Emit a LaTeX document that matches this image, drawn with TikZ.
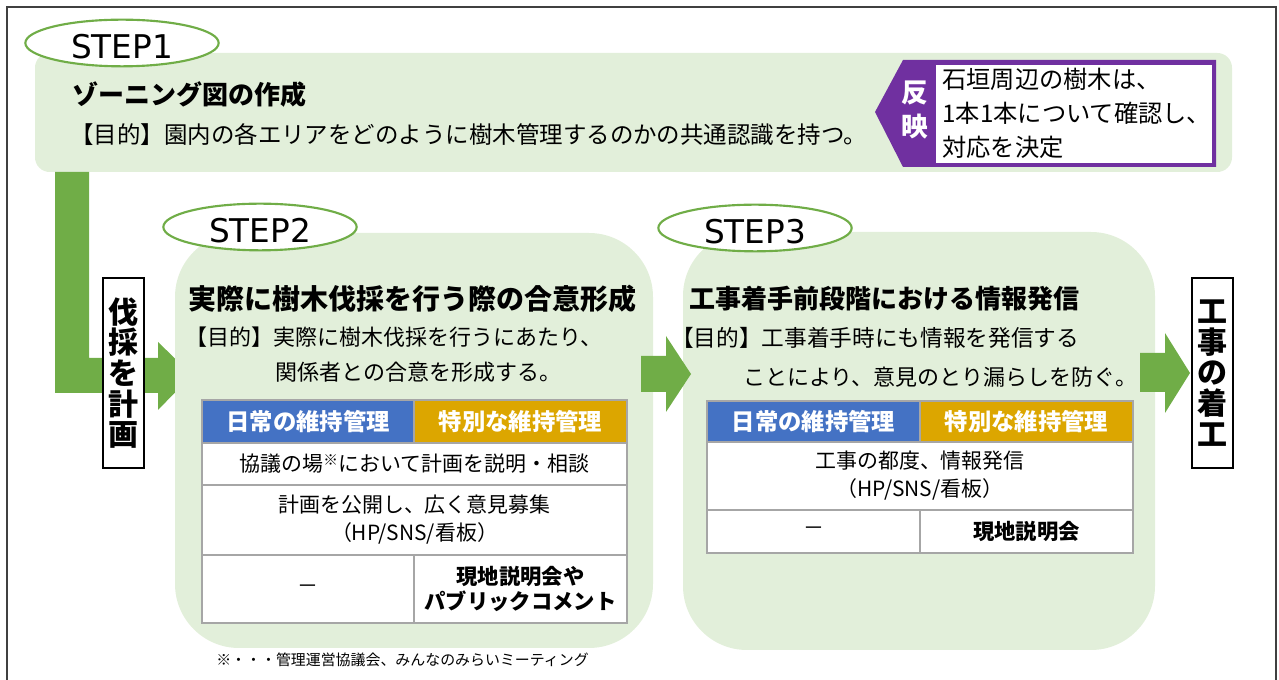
\documentclass[tikz,border=0pt]{standalone}
\usepackage{fontspec}
\setmainfont{Noto Sans CJK JP}
\newfontfamily\stepfont{DejaVu Sans}
\usetikzlibrary{shapes.geometric}
\definecolor{lgreen}{HTML}{E2EFDA}
\definecolor{sgreen}{HTML}{70AD47}
\definecolor{purp}{HTML}{7030A0}
\definecolor{hblue}{HTML}{4472C4}
\definecolor{hgold}{HTML}{DCA600}
\definecolor{tgray}{HTML}{A6A6A6}
\definecolor{framec}{HTML}{404040}
\begin{document}
\begin{tikzpicture}[x=0.75pt,y=-0.75pt,
  oval/.style={ellipse, draw=sgreen, line width=1.6pt, fill=white, minimum width=145pt, minimum height=35pt, inner sep=0pt},
  steptext/.style={font=\stepfont\fontsize{24.5}{24.5}\selectfont, inner sep=0pt},
  titletext/.style={font=\bfseries\fontsize{19.5}{22}\selectfont, anchor=west, inner sep=0pt},
  purptext/.style={font=\fontsize{16.5}{20}\selectfont, inner sep=0pt},
  vbox/.style={draw=black, line width=1.1pt, fill=white, minimum width=30.75pt, minimum height=142.5pt, inner sep=0pt, align=center, font=\bfseries\fontsize{22.5}{23}\selectfont},
  cell/.style={draw=tgray, line width=1.4pt, fill=white, inner sep=0pt, align=center, font=\fontsize{15.7}{21}\selectfont},
  hcell/.style={cell, text=white, font=\bfseries\fontsize{17.5}{20}\selectfont},
  greenarrow/.style={fill=sgreen}
]
\useasboundingbox (0,0) rectangle (1279,680);
% frame
\draw[framec, line width=1.5pt] (7,680) -- (7,7) -- (1276,7) -- (1276,680);

% STEP1 background
\fill[lgreen, rounded corners=11pt] (35,53) rectangle (1232,172);
% purple tag
\fill[purp] (875,112) -- (903,60) -- (1216,60) -- (1216,167) -- (903,167) -- cycle;
\fill[white] (936,65) rectangle (1212,163);
\node[font=\bfseries\fontsize{20}{26}\selectfont, text=white, align=center, inner sep=0pt] (refl) at (915,110) {反\\映};
\node[purptext, anchor=west, align=left, font=\fontsize{18.2}{25.5}\selectfont] (stone) at (942,113) {石垣周辺の樹木は、\\1本1本について確認し、\\対応を決定};

% L arrow
\fill[greenarrow] (55,172) -- (89,172) -- (89,358) -- (158,358) -- (158,342) -- (192,375) -- (158,410) -- (158,393) -- (55,393) -- cycle;

% STEP2 / STEP3 backgrounds
\fill[lgreen, rounded corners=48pt] (175,233) rectangle (653,648);
\fill[lgreen, rounded corners=48pt] (683,232) rectangle (1155,650);

% arrows
\fill[greenarrow] (641,356) -- (666,356) -- (666,336) -- (691,374) -- (666,412) -- (666,392) -- (641,392) -- cycle;
\fill[greenarrow] (1140,353) -- (1165,353) -- (1165,333) -- (1190,373) -- (1165,413) -- (1165,392) -- (1140,392) -- cycle;

% ovals
\node[oval] (o1) at (122,43) {};
\node[steptext] (l1) at (122,47) {STEP1};
\node[oval] (o2) at (260,227) {};
\node[steptext] (l2) at (260,231) {STEP2};
\node[oval] (o3) at (755,228) {};
\node[steptext] (l3) at (755,232) {STEP3};

% STEP1 texts
\node[titletext] (t1) at (72,95) {ゾーニング図の作成};
\node[purptext, anchor=west, font=\fontsize{17.6}{20}\selectfont] (p1) at (70,135) {【目的】園内の各エリアをどのように樹木管理するのかの共通認識を持つ。};

% STEP2 texts
\node[titletext, font=\bfseries\fontsize{21}{22}\selectfont] (t2) at (188,299) {実際に樹木伐採を行う際の合意形成};
\node[purptext, anchor=west] (p2a) at (185,337) {【目的】実際に樹木伐採を行うにあたり、};
\node[purptext, anchor=west] (p2b) at (275,372) {関係者との合意を形成する。};

% STEP3 texts
\node[titletext] (t3) at (689,299) {工事着手前段階における情報発信};
\node[purptext, anchor=west, font=\fontsize{17}{20}\selectfont] (p3a) at (671,338) {【目的】工事着手時にも情報を発信する};
\node[purptext, anchor=east] (p3b) at (1138,377) {ことにより、意見のとり漏らしを防ぐ。};

% STEP2 table
\node[hcell, fill=hblue, minimum width=159pt, minimum height=32.25pt] (a11) at (308,421.5) {日常の維持管理};
\node[hcell, fill=hgold, minimum width=159.75pt, minimum height=32.25pt] (a12) at (520.5,421.5) {特別な維持管理};
\node[cell, minimum width=318.75pt, minimum height=31.5pt] (a2) at (414.5,464) {協議の場\textsuperscript{※}において計画を説明・相談};
\node[cell, minimum width=318.75pt, minimum height=52.5pt] (a3) at (414.5,520) {計画を公開し、広く意見募集\\（HP/SNS/看板）};
\node[cell, minimum width=159pt, minimum height=51pt] (a41) at (308,589) {－};
\node[cell, minimum width=159.75pt, minimum height=51pt, font=\bfseries\fontsize{16}{19}\selectfont] (a42) at (520.5,589) {現地説明会や\\パブリックコメント};

% STEP3 table
\node[hcell, fill=hblue, minimum width=159.75pt, minimum height=30.75pt] (b11) at (813.5,421.5) {日常の維持管理};
\node[hcell, fill=hgold, minimum width=159.75pt, minimum height=30.75pt] (b12) at (1026.5,421.5) {特別な維持管理};
\node[cell, minimum width=319.5pt, minimum height=51pt] (b2) at (920,476) {工事の都度、情報発信\\（HP/SNS/看板）};
\node[cell, minimum width=159.75pt, minimum height=32.25pt] (b31) at (813.5,531.5) {－};
\node[cell, minimum width=159.75pt, minimum height=32.25pt, font=\bfseries\fontsize{16}{19}\selectfont] (b32) at (1026.5,531.5) {現地説明会};

% vertical boxes
\node[vbox] (plan) at (123.5,373) {伐\\採\\を\\計\\画};
\node[vbox] (start) at (1212.5,373) {工\\事\\の\\着\\工};

% footnote
\node[anchor=west, inner sep=0pt, font=\fontsize{11.2}{13}\selectfont] (note) at (216,660) {※・・・管理運営協議会、みんなのみらいミーティング};
\end{tikzpicture}
\end{document}
